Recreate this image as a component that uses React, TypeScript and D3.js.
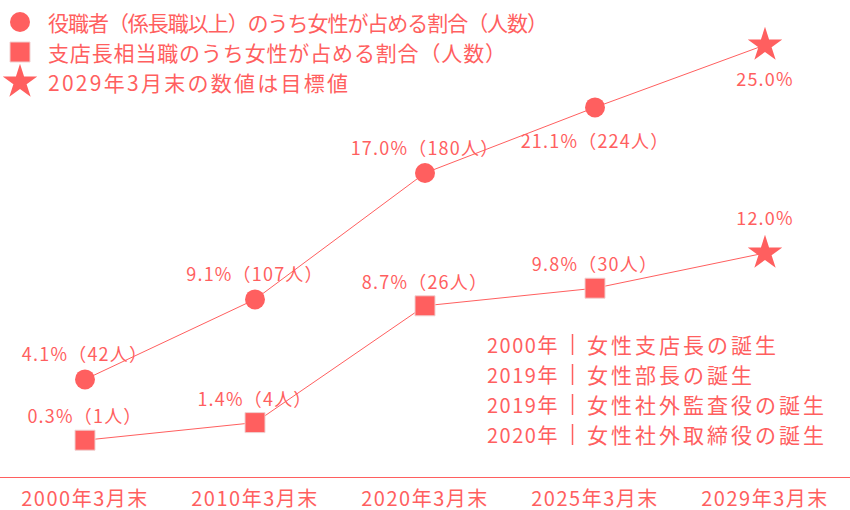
import React, { useEffect } from 'react';
import * as d3 from 'd3';

const categories = ['2000年3月末', '2010年3月末', '2020年3月末', '2025年3月末', '2029年3月末'];
// 役職者(係長職以上)
const managerRates = [4.1, 9.1, 17.0, 21.1, 25.0];
const managerCounts = [42, 107, 180, 224, null];
// 支店長相当職
const branchRates = [0.3, 1.4, 8.7, 9.8, 12.0];
const branchCounts = [1, 4, 26, 30, null];

const legendLabels = [
  '役職者（係長職以上）のうち女性が占める割合（人数）',
  '支店長相当職のうち女性が占める割合（人数）',
  '2029年3月末の数値は目標値',
];
// rendered widths of the legend rows in the original
const legendWidths = [500, 458, 300];

const milestoneYears = ['2000年', '2019年', '2019年', '2020年'];
const milestoneEvents = ['女性支店長の誕生', '女性部長の誕生', '女性社外監査役の誕生', '女性社外取締役の誕生'];

const W = 850;
const H = 510;
const RED = '#ff5f5f';
const FONT = '"Noto Sans CJK JP", "Noto Sans", sans-serif';

const fmt = (v: number, n: number | null) =>
  n == null ? `${v.toFixed(1)}%` : `${v.toFixed(1)}%（${n}人）`;

export default function App() {
  useEffect(() => {
    document.body.style.margin = '0';
  }, []);

  const x = d3.scalePoint<string>().domain(categories).range([85, 765]);
  const y = d3.scaleLinear().domain([0, 25]).range([445, 45]);

  const circle = d3.symbol(d3.symbolCircle, 314)()!;
  const square = d3.symbol(d3.symbolSquare, 400)()!;
  const star = d3.symbol(d3.symbolStar, 370)()!;

  const line = d3.line<number>()
    .x((_, i) => x(categories[i])!)
    .y(d => y(d));

  const last = categories.length - 1;

  return (
    <svg width={W} height={H} style={{ display: 'block', fontFamily: FONT }}>
      <rect width={W} height={H} fill="#fff" />

      {/* x axis baseline */}
      <line x1={0} x2={W} y1={477.5} y2={477.5} stroke={RED} strokeWidth={1.2} />
      {categories.map(c => (
        <text key={c} x={x(c)} y={497} textAnchor="middle" dominantBaseline="central"
          fontSize={20} letterSpacing={1.5} fill={RED}>{c}</text>
      ))}

      {/* lines */}
      <path d={line(managerRates)!} fill="none" stroke={RED} strokeWidth={1} />
      <path d={line(branchRates)!} fill="none" stroke={RED} strokeWidth={1} />

      {/* markers */}
      {managerRates.map((v, i) => (
        <path key={'m' + i} d={i === last ? star : circle}
          transform={`translate(${x(categories[i])},${y(v)})`} fill={RED} />
      ))}
      {branchRates.map((v, i) => (
        <path key={'b' + i} d={i === last ? star : square}
          transform={`translate(${x(categories[i])},${y(v)})`} fill={RED}
          stroke={i === last ? 'none' : '#f0d0d0'} strokeWidth={1} />
      ))}

      {/* value labels */}
      {managerRates.map((v, i) => (
        <text key={'ml' + i} x={x(categories[i])} y={y(v) + (i >= 3 ? 33 : -26)}
          textAnchor="middle" dominantBaseline="central" fontSize={18} letterSpacing={1.2}
          fill={RED}>{fmt(v, managerCounts[i])}</text>
      ))}
      {branchRates.map((v, i) => (
        <text key={'bl' + i} x={x(categories[i])} y={y(v) + (i === last ? -36 : -25)}
          textAnchor="middle" dominantBaseline="central" fontSize={18} letterSpacing={1.2}
          fill={RED}>{fmt(v, branchCounts[i])}</text>
      ))}

      {/* legend */}
      {legendLabels.map((t, i) => (
        <g key={t} transform={`translate(20,${22 + i * 30})`}>
          <path d={[circle, square, star][i]} fill={RED}
            stroke={i === 1 ? '#f0d0d0' : 'none'} />
          <text x={28} y={0} dominantBaseline="central" fontSize={21}
            textLength={legendWidths[i]} lengthAdjust="spacing"
            fill={RED}>{t}</text>
        </g>
      ))}

      {/* milestones */}
      {milestoneYears.map((yr, i) => (
        <g key={i} transform={`translate(0,${344 + i * 30})`}>
          <text x={487} y={0} dominantBaseline="central" fontSize={20} letterSpacing={1.5}
            fill={RED}>{yr}</text>
          <line x1={572.5} x2={572.5} y1={-10} y2={11} stroke={RED} strokeWidth={1.5} />
          <text x={587} y={0} dominantBaseline="central" fontSize={21} letterSpacing={3}
            fill={RED}>{milestoneEvents[i]}</text>
        </g>
      ))}
    </svg>
  );
}
